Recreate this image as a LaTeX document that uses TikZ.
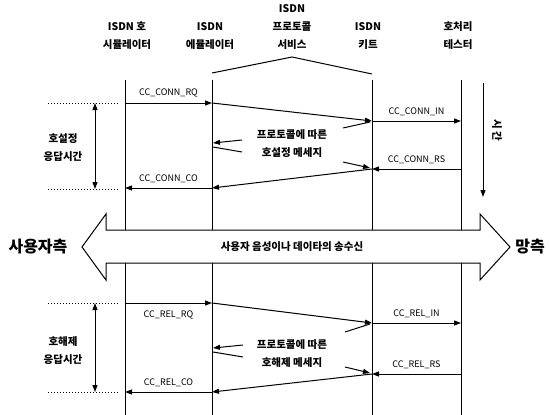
\documentclass[tikz,border=0pt]{standalone}
\usepackage{fontspec}
\setmainfont{Noto Sans CJK KR}
\usepackage{tikz}
\usetikzlibrary{arrows.meta,positioning}

\begin{document}
\begin{tikzpicture}[x=1pt, y=-1pt, line width=1pt,
    head/.style={align=center, font=\fontsize{10.5}{18}\bfseries\selectfont},
    lbl/.style={font=\fontsize{9}{10}\selectfont, inner sep=1pt},
    msg/.style={-{Triangle[length=7pt, width=5pt]}},
    side/.style={font=\fontsize{16}{18}\bfseries\selectfont}]
    \useasboundingbox (0,0) rectangle (549,415);
    % lifelines: simulator, emulator, kit, tester
    \foreach \n/\x in {sim/125, emu/212, kit/372, tst/461} {
      \draw (\x,80) -- (\x,232);
      \draw (\x,260) -- (\x,415);
      \foreach \r/\y in {a/103, b/121, c/169, d/188, e/303, f/323, g/374, h/392}
        \coordinate (\n-\r) at (\x,\y);
    }
    % headers
    \node[head] (simH) at (127,36) {ISDN 호\\시뮬레이터};
    \node[head] (emuH) at (210,36) {ISDN\\에뮬레이터};
    \node[head] (srvH) at (292,27) {ISDN\\프로토콜\\서비스};
    \node[head] (kitH) at (368,36) {ISDN\\키트};
    \node[head] (tstH) at (458,36) {호처리\\테스터};
    \draw (212,73) -- (292,57) -- (372,74);
    % call setup
    \draw[msg] (sim-a) -- node[lbl, above=4pt] {CC\_CONN\_RQ} (emu-a);
    \draw[msg] (emu-a) -- (kit-b);
    \draw[msg] (kit-b) -- node[lbl, above=4pt] {CC\_CONN\_IN} (tst-b);
    \draw[msg] (tst-c) -- node[lbl, above=4pt] {CC\_CONN\_RS} (kit-c);
    \draw[msg] (kit-c) -- (emu-d);
    \draw[msg] (emu-d) -- node[lbl, above=4pt] {CC\_CONN\_CO} (sim-d);
    \node[head] (setT) at (292,144) {프로토콜에 따른\\호설정 메세지};
    \draw[msg] (242,140) -- (213,143);
    \draw (242,152) -- (213,147);
    \draw (343,128) -- (370,122);
    \draw[msg] (343,162) -- (370,168);
    \draw[dotted] (48,103) -- (118,103);
    \draw[dotted] (48,189) -- (118,189);
    \draw[{Triangle[length=7pt, width=5pt]}-{Triangle[length=7pt, width=5pt]}] (95,103) -- (95,189);
    \node[head] (setL) at (63,148) {호설정\\응답시간};
    % time
    \draw[msg] (483,83) -- (483,197);
    \node[head, rotate=-90] (timeL) at (497,130) {시 간};
    % user data exchange
    \draw[fill=white] (82,247) -- (106,214) -- (106,230) -- (480,230) -- (480,214)
      -- (510,247) -- (480,280) -- (480,263) -- (106,263) -- (106,280) -- cycle;
    \node[head] (dataL) at (292,247) {사용자 음성이나 데이타의 송수신};
    \node[side] (userL) at (38,247) {사용자측};
    \node[side] (netL) at (530,247) {망측};
    % call release
    \draw[msg] (sim-e) -- node[lbl, below=6pt] {CC\_REL\_RQ} (emu-e);
    \draw[msg] (emu-e) -- (kit-f);
    \draw[msg] (kit-f) -- node[lbl, above=4pt] {CC\_REL\_IN} (tst-f);
    \draw[msg] (tst-g) -- node[lbl, above=4pt] {CC\_REL\_RS} (kit-g);
    \draw[msg] (kit-g) -- (emu-h);
    \draw[msg] (emu-h) -- node[lbl, above=4pt] {CC\_REL\_CO} (sim-h);
    \node[head] (relT) at (292,354) {프로토콜에 따른\\호해제 메세지};
    \draw[msg] (243,345) -- (213,348);
    \draw (243,357) -- (213,352);
    \draw (345,332) -- (370,324);
    \draw[msg] (345,367) -- (370,373);
    \draw[dotted] (48,303) -- (118,303);
    \draw[dotted] (48,392) -- (118,392);
    \draw[{Triangle[length=7pt, width=5pt]}-{Triangle[length=7pt, width=5pt]}] (95,303) -- (95,392);
    \node[head] (relL) at (63,351) {호해제\\응답시간};
  \end{tikzpicture}
\end{document}
